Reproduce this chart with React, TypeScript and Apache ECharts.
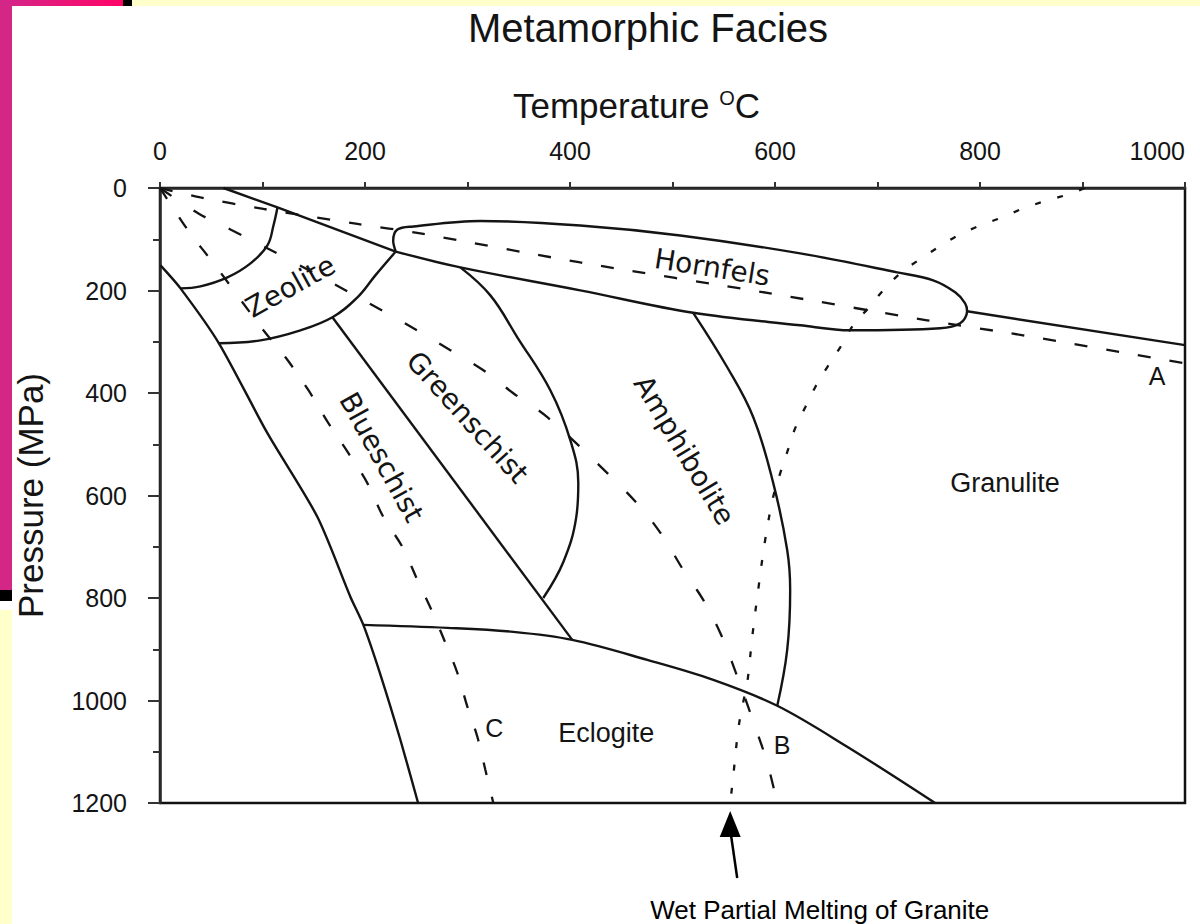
import React, { useEffect, useRef } from 'react';
import * as echarts from 'echarts';

type Pt = [number, number];

// ---------- Text ----------
const chartTitle = 'Metamorphic Facies';
const temperatureName = 'Temperature {sup|O}C';
const pressureName = 'Pressure (MPa)';
const meltingCaption = 'Wet Partial Melting of Granite';

// ---------- Axis ranges (T in °C, P in MPa) ----------
const temperatureRange: Pt = [0, 1000];
const pressureRange: Pt = [0, 1200];
const labelStep = 200;

// ---------- Facies boundaries, [temperature, pressure] ----------
const surfaceBoundary: Pt[] = [[62, 0], [114.6, 38], [230, 124]];
const hornfelsOutline: Pt[] = [
  [230, 124], [227.5, 103], [231.6, 81], [247.2, 75], [312.5, 64.3], [410, 73.1],
  [507.6, 92.6], [624.6, 127.6], [719.2, 164.6], [754.3, 180.2], [775.8, 203.6],
  [785.5, 225.1], [787.4, 240.6], [780.6, 264], [761.1, 273.8], [673.3, 277.7],
  [624.6, 267.9], [520.2, 243.5], [410, 199.7], [293, 154.9], [230, 124],
];
const granuliteUpperBoundary: Pt[] = [[787.4, 240.6], [1000, 306.7]];
const zeoliteGreenschist: Pt[] = [
  [230, 124], [210.1, 170.5], [192.6, 213.4], [168.2, 252.3], [137, 277.7], [98, 297.2], [57.5, 303],
];
const zeoliteInner: Pt[] = [
  [114.6, 38], [110.7, 73.1], [104.8, 112], [88.3, 147.1], [65.8, 174.4], [39.5, 191.9], [20, 195.8],
];
const blueschistOuter: Pt[] = [
  [0.5, 151], [20, 195.8], [57.5, 303], [104.8, 478.4], [153.6, 642], [185.8, 797.9],
  [198.4, 852.5], [215.1, 949.9], [234.5, 1076.6], [251.8, 1200],
];
const blueschistGreenschist: Pt[] = [[168.2, 252.3], [402.2, 881.7]];
const greenschistAmphibolite: Pt[] = [
  [293, 154.9], [322.3, 209.5], [348.6, 291.3], [380.8, 394.6], [400.3, 492],
  [408.1, 575.8], [406.1, 642.1], [393.5, 729.7], [373.9, 800],
];
const amphiboliteGranulite: Pt[] = [
  [520.2, 243.5], [553.4, 349.8], [578.8, 447.2], [598.3, 575.8], [611.9, 706.4],
  [614.8, 784.3], [611.9, 901.2], [602.2, 1010.3],
];
const eclogiteBoundary: Pt[] = [
  [198.4, 852.5], [280.3, 858.3], [344.7, 866.1], [402.2, 881.7], [475.4, 920.7],
  [539.8, 959.7], [602.2, 1010.3], [670.4, 1090.2], [756.2, 1200],
];

// ---------- Geotherms (dashed) ----------
const geothermA: Pt[] = [
  [0, 0], [39.5, 18.5], [100.9, 40.9], [192.6, 70.1], [254, 88.7], [410, 145.2],
  [595.3, 205.6], [748.4, 258.2], [842, 287.4], [1000, 342],
];
const geothermB: Pt[] = [
  [0, 0], [37.5, 49.7], [68.7, 80.9], [129.2, 143.3], [221.8, 244.5], [254, 281.6],
  [283.3, 316.6], [315.5, 355.6], [344.7, 400.4], [377.9, 447.2], [436.4, 556.3],
  [468.6, 622.6], [491, 681], [510.5, 745.3], [530, 803.8], [546.6, 868.1],
  [558.3, 926.6], [580.7, 1051.3], [592.4, 1121.5], [602.2, 1200],
];
const geothermC: Pt[] = [
  [0, 0], [28.8, 86.7], [53.1, 149.1], [100.9, 277.7], [122.4, 330.3], [144.8, 394.6],
  [164.3, 458.9], [183.8, 517.3], [202.3, 575.8], [217.9, 642], [236.5, 700.5],
  [251.1, 764.8], [265.7, 827.2], [278.4, 887.5], [290.1, 946], [299.9, 1012.3],
  [309.6, 1070.7], [317.4, 1135.1], [325.2, 1200],
];

// ---------- Wet granite solidus (dotted) ----------
const graniteMelting: Pt[] = [
  [902, 0], [887.9, 11.3], [865.4, 24.4], [842, 40], [821.5, 57.5], [800.1, 73.1],
  [778.6, 92.6], [759.1, 115.9], [739.6, 141.3], [722.1, 166.6], [705.5, 199.7],
  [690.9, 234.8], [676.2, 267.9], [663.6, 310.8], [650.9, 349.8], [639.2, 388.7],
  [629.5, 427.7], [619.7, 468.6], [611.9, 515.4], [605.1, 556.3], [598.2, 603.1],
  [590.4, 686.9], [583.6, 784.3], [577.8, 875.9], [572.9, 965.5], [568, 1012.3],
  [564.1, 1057.1], [559.2, 1148.7], [556.3, 1200],
];

// ---------- Region labels: text, anchor temperature, anchor pressure, angle ----------
const labelTexts = ['Zeolite', 'Hornfels', 'Greenschist', 'Blueschist', 'Amphibolite', 'Granulite', 'Eclogite', 'A', 'B', 'C'];
const labelTemps = [127.3, 538.8, 299.9, 216.0, 511.5, 824.5, 435.4, 972.7, 607.0, 326.2];
const labelPress = [191.9, 154.9, 447.2, 525.1, 511.5, 575.8, 1062.9, 367.3, 1086.3, 1053.2];
const labelAngles = [29, -9, -48, -61, -59, 0, 0, 0, 0, 0];
const labelKinds = ['spaced', 'spaced', 'spaced', 'spaced', 'spaced', 'plain', 'plain', 'letter', 'letter', 'letter'];

const FONT = '"Liberation Sans", Arial, Helvetica, sans-serif';
const INK = '#141414';

const labelStyles: Record<string, { fontSize: number; fontFamily: string }> = {
  spaced: { fontSize: 28, fontFamily: '"DejaVu Sans", sans-serif' },
  plain: { fontSize: 27, fontFamily: FONT },
  letter: { fontSize: 25, fontFamily: FONT },
};

function lineSeries(name: string, data: Pt[], smooth: number, type: any, width = 2.4) {
  return {
    type: 'line',
    name,
    data,
    smooth,
    symbol: 'none',
    showSymbol: false,
    silent: true,
    clip: false,
    lineStyle: { color: INK, width, type },
    z: 3,
  };
}

const plainNumber = (v: number) => String(v);

function buildOption(): any {
  return {
    animation: false,
    backgroundColor: '#ffffff',
    title: {
      text: chartTitle,
      left: 648,
      top: 8,
      textAlign: 'center',
      padding: 0,
      textStyle: { fontSize: 40, fontWeight: 'normal', fontFamily: FONT, color: INK },
    },
    grid: {
      left: 160,
      top: 188,
      width: 1025,
      height: 615,
      show: true,
      borderColor: '#111',
      borderWidth: 2.5,
      backgroundColor: 'transparent',
    },
    xAxis: {
      type: 'value',
      position: 'top',
      min: temperatureRange[0],
      max: temperatureRange[1],
      interval: labelStep,
      name: temperatureName,
      nameLocation: 'middle',
      nameGap: 65,
      nameTextStyle: {
        fontSize: 35,
        fontFamily: FONT,
        color: INK,
        padding: [0, 72, 0, 0],
        rich: { sup: { fontSize: 20, fontFamily: FONT, color: INK, verticalAlign: 'top' } },
      },
      axisLine: { show: true, onZero: false, lineStyle: { color: '#2a2a2a', width: 2.5 } },
      axisTick: { show: true, inside: false, length: 6, lineStyle: { color: '#333', width: 2 } },
      minorTick: { show: true, splitNumber: 2, length: 6, lineStyle: { color: '#333', width: 2 } },
      axisLabel: {
        margin: 25, fontSize: 25, fontFamily: FONT, color: INK, alignMaxLabel: 'right',
        formatter: plainNumber,
      },
      splitLine: { show: false },
      minorSplitLine: { show: false },
    },
    yAxis: {
      type: 'value',
      position: 'left',
      inverse: true,
      min: pressureRange[0],
      max: pressureRange[1],
      interval: labelStep,
      name: pressureName,
      nameLocation: 'middle',
      nameGap: 112,
      nameTextStyle: { fontSize: 35, fontFamily: FONT, color: INK },
      axisLine: { show: true, onZero: false, lineStyle: { color: '#2a2a2a', width: 2.5 } },
      axisTick: { show: true, inside: false, length: 12, lineStyle: { color: '#333', width: 2 } },
      minorTick: { show: true, splitNumber: 2, length: 7, lineStyle: { color: '#333', width: 2 } },
      axisLabel: { margin: 33, fontSize: 25, fontFamily: FONT, color: INK, formatter: plainNumber },
      splitLine: { show: false },
      minorSplitLine: { show: false },
    },
    series: [
      lineSeries('surface', surfaceBoundary, 0, 'solid'),
      lineSeries('hornfels', hornfelsOutline, 0.35, 'solid'),
      lineSeries('granulite-upper', granuliteUpperBoundary, 0, 'solid'),
      lineSeries('zeolite-greenschist', zeoliteGreenschist, 0.4, 'solid'),
      lineSeries('zeolite-inner', zeoliteInner, 0.4, 'solid'),
      lineSeries('blueschist-outer', blueschistOuter, 0.25, 'solid'),
      lineSeries('blueschist-greenschist', blueschistGreenschist, 0, 'solid'),
      lineSeries('greenschist-amphibolite', greenschistAmphibolite, 0.4, 'solid'),
      lineSeries('amphibolite-granulite', amphiboliteGranulite, 0.4, 'solid'),
      lineSeries('eclogite', eclogiteBoundary, 0.35, 'solid'),
      lineSeries('geotherm A', geothermA, 0.3, [13, 19], 2.3),
      lineSeries('geotherm B', geothermB, 0.35, [14, 26], 2.3),
      lineSeries('geotherm C', geothermC, 0.35, [13, 22], 2.3),
      lineSeries('wet granite melting', graniteMelting, 0.35, [6, 17], 2.3),
    ],
  };
}

function buildGraphics(px: (t: number, p: number) => number[]): any[] {
  const decor: any[] = [
    {
      type: 'rect', silent: true, z: -1,
      shape: { x: 0, y: 0, width: 123, height: 6 },
      style: {
        fill: new echarts.graphic.LinearGradient(0, 0, 1, 0, [
          { offset: 0, color: '#d2278a' },
          { offset: 1, color: '#ff0466' },
        ]),
      },
    },
    { type: 'rect', silent: true, z: -1, shape: { x: 123, y: 0, width: 9, height: 6 }, style: { fill: '#000' } },
    { type: 'rect', silent: true, z: -1, shape: { x: 132, y: 0, width: 1068, height: 6 }, style: { fill: '#ffffcc' } },
    { type: 'rect', silent: true, z: -1, shape: { x: 0, y: 6, width: 12, height: 584 }, style: { fill: '#d42684' } },
    { type: 'rect', silent: true, z: -1, shape: { x: 0, y: 590, width: 12, height: 11 }, style: { fill: '#000' } },
    { type: 'rect', silent: true, z: -1, shape: { x: 0, y: 610, width: 12, height: 314 }, style: { fill: '#ffffcc' } },
  ];

  const labels = labelTexts.map((text, i) => {
    const [x, y] = px(labelTemps[i], labelPress[i]);
    const st = labelStyles[labelKinds[i]];
    return {
      type: 'text',
      x,
      y,
      rotation: (labelAngles[i] * Math.PI) / 180,
      silent: true,
      z: 10,
      style: {
        text,
        fill: INK,
        fontSize: st.fontSize,
        fontFamily: st.fontFamily,
        align: 'center',
        verticalAlign: 'middle',
        textAlign: 'center',
        textVerticalAlign: 'middle',
      },
    };
  });

  const end = graniteMelting[graniteMelting.length - 1];
  const [ax, ay] = px(end[0], end[1]);
  const arrow = [
    {
      type: 'polygon', silent: true, z: 10,
      shape: { points: [[ax, ay + 8], [ax - 10.5, ay + 34], [ax + 10.5, ay + 34]] },
      style: { fill: '#000' },
    },
    {
      type: 'line', silent: true, z: 10,
      shape: { x1: ax + 0.5, y1: ay + 30, x2: ax + 7, y2: ay + 75 },
      style: { stroke: '#000', lineWidth: 2.5 },
    },
    {
      type: 'text', silent: true, z: 10,
      x: ax + 89.5,
      y: ay + 107,
      style: {
        text: meltingCaption,
        fill: '#000',
        fontSize: 26,
        fontFamily: FONT,
        align: 'center',
        verticalAlign: 'middle',
        textAlign: 'center',
        textVerticalAlign: 'middle',
      },
    },
  ];

  return [...decor, ...labels, ...arrow];
}

export default function App() {
  const ref = useRef<HTMLDivElement>(null);
  useEffect(() => {
    const el = ref.current;
    if (!el) return;
    const chart = echarts.init(el, undefined, { renderer: 'svg' });
    chart.setOption(buildOption());
    const px = (t: number, p: number) =>
      chart.convertToPixel({ gridIndex: 0 }, [t, p]) as unknown as number[];
    chart.setOption({ graphic: buildGraphics(px) });
    return () => chart.dispose();
  }, []);
  return (
    <div
      ref={ref}
      style={{ position: 'fixed', left: 0, top: 0, width: 1200, height: 924, background: '#fff' }}
    />
  );
}
